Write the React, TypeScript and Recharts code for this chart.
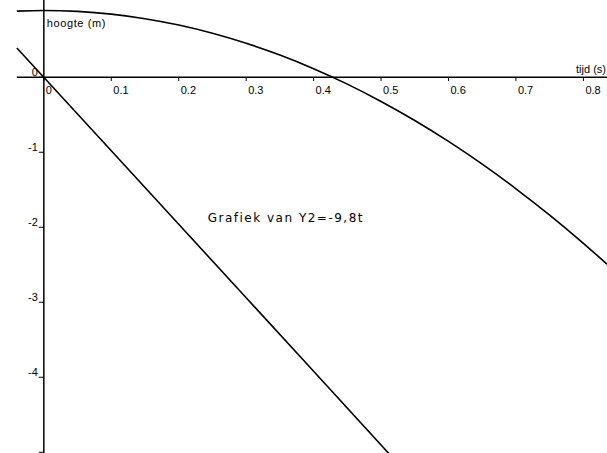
import React from 'react';
import { LineChart, Line, XAxis, YAxis, ReferenceLine, ReferenceDot } from 'recharts';

const parabolaT = [-0.04, 0, 0.05, 0.1, 0.15, 0.2, 0.25, 0.3, 0.35, 0.4, 0.45, 0.5, 0.55, 0.6, 0.65, 0.7, 0.75, 0.8, 0.835];
const parabolaH = [0.882, 0.89, 0.878, 0.842, 0.781, 0.696, 0.587, 0.454, 0.296, 0.114, -0.092, -0.323, -0.577, -0.856, -1.159, -1.487, -1.838, -2.214, -2.492];

// Y2 = -9,8t
const lineT = [-0.04, 0.1, 0.2, 0.3, 0.4, 0.52];
const lineH = [0.39, -0.98, -1.96, -2.94, -3.92, -5.1];

const xTicks = [0, 0.1, 0.2, 0.3, 0.4, 0.5, 0.6, 0.7, 0.8];
const xTickLabels = ['0', '0.1', '0.2', '0.3', '0.4', '0.5', '0.6', '0.7', '0.8'];
const yTicks = [0, -1, -2, -3, -4, -5];
const yTickLabels = ['0', '-1', '-2', '-3', '-4', ''];

const parabola = parabolaT.map((t, i) => ({ t, h: parabolaH[i] }));
const line = lineT.map((t, i) => ({ t, h: lineH[i] }));

const font = { fontFamily: 'Liberation Sans, Arial, sans-serif', fontSize: 11, fill: '#000' };

const textAt = (text: string, dx: number, dy: number, anchor: string, extra: any = {}) => (p: any) => (
  <text x={p.viewBox.x + dx} y={p.viewBox.y + dy} textAnchor={anchor} {...font} {...extra}>
    {text}
  </text>
);

export default function App() {
  return (
    <div style={{ position: 'absolute', left: 0, top: 0, background: '#fff' }}>
      <LineChart width={607} height={453} margin={{ top: 0, right: 0, bottom: 0, left: 0 }}>
        <XAxis type="number" dataKey="t" domain={[-0.065, 0.835]} hide allowDataOverflow />
        <YAxis type="number" domain={[-5.01, 1.03]} hide allowDataOverflow />

        {/* assen */}
        <ReferenceLine
          segment={[{ x: -0.04, y: 0 }, { x: 0.835, y: 0 }]}
          stroke="#000"
          strokeWidth={1.5}
          label={(p: any) => (
            <text x={p.viewBox.x + p.viewBox.width - 1} y={p.viewBox.y - 4} textAnchor="end" {...font}>
              tijd (s)
            </text>
          )}
        />
        <ReferenceLine
          segment={[{ x: 0, y: 1.03 }, { x: 0, y: -5.01 }]}
          stroke="#000"
          strokeWidth={1.5}
          label={textAt('hoogte (m)', 3, 27, 'start', { letterSpacing: 0.6 })}
        />

        {xTicks.map((t, i) => (
          <ReferenceLine
            key={'x' + t}
            segment={[{ x: t, y: 0 }, { x: t, y: -0.05 }]}
            stroke="#000"
            strokeWidth={1}
            label={textAt(xTickLabels[i], 2, 17, 'start')}
          />
        ))}
        {yTicks.map((v, i) => (
          <ReferenceLine
            key={'y' + v}
            segment={[{ x: -0.0075, y: v }, { x: 0, y: v }]}
            stroke="#000"
            strokeWidth={1}
            label={textAt(yTickLabels[i], -1, -1, 'end')}
          />
        ))}

        <ReferenceDot
          x={0.243}
          y={-1.93}
          r={0}
          stroke="none"
          fill="none"
          label={textAt('Grafiek van Y2=-9,8t', 0, 0, 'start', { fontSize: 12, fontFamily: 'DejaVu Sans, sans-serif', letterSpacing: 1.5 })}
        />

        <Line data={parabola} dataKey="h" type="monotone" stroke="#000" strokeWidth={1.6} dot={false} activeDot={false} isAnimationActive={false} />
        <Line data={line} dataKey="h" type="linear" stroke="#000" strokeWidth={1.6} dot={false} activeDot={false} isAnimationActive={false} />
      </LineChart>
    </div>
  );
}
